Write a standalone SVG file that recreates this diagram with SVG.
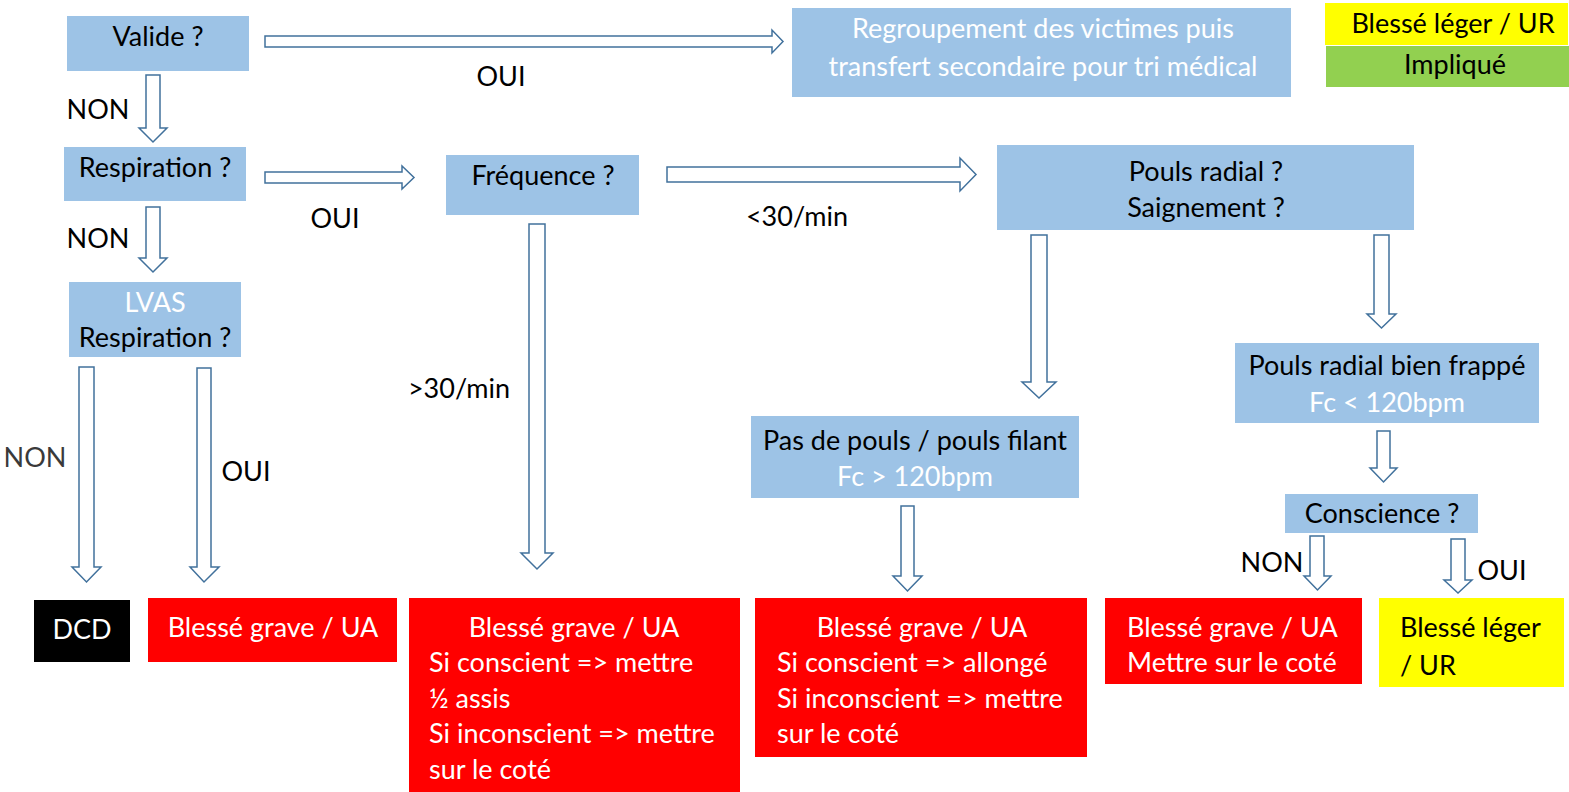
<svg xmlns="http://www.w3.org/2000/svg" width="1569" height="792" viewBox="0 0 1569 792">
<style>
text{font-family:Lato,"Open Sans","Noto Sans",sans-serif;font-size:27px;fill:#000}
.w{fill:#fff}
.c{text-anchor:middle}
.blue{fill:#9DC3E6}
.red{fill:#FF0000}
.yel{fill:#FFFF00}
.grn{fill:#92D050}
.blk{fill:#000}
.arr{fill:#fff;stroke:#41719C;stroke-width:1.5;stroke-linejoin:miter}
.gray{fill:#3a3a3a}
</style>
<rect width="1569" height="792" fill="#fff"/>
<g id="connectors">
<path class="arr" d="M265,36 L772,36 L772,30 L783,41.5 L772,53 L772,47 L265,47 Z"/>
<path class="arr" d="M265,172 L402,172 L402,166 L414,177.5 L402,189 L402,183 L265,183 Z"/>
<path class="arr" d="M667,167 L960,167 L960,158 L976,174.5 L960,191 L960,182 L667,182 Z"/>
<path class="arr" d="M146,75 L160,75 L160,128 L167,128 L153,142 L139,128 L146,128 Z"/>
<path class="arr" d="M146,207 L160,207 L160,258 L167,258 L153,272 L139,258 L146,258 Z"/>
<path class="arr" d="M79,367 L94,367 L94,567 L101,567 L86.5,582 L72,567 L79,567 Z"/>
<path class="arr" d="M197,368 L211,368 L211,567 L219,567 L204,582 L190,567 L197,567 Z"/>
<path class="arr" d="M529,224 L545,224 L545,553 L553,553 L537,569 L521,553 L529,553 Z"/>
<path class="arr" d="M1031,235 L1047,235 L1047,382 L1056,382 L1039,398 L1022,382 L1031,382 Z"/>
<path class="arr" d="M1374,235 L1389,235 L1389,314 L1396,314 L1381.5,328 L1367,314 L1374,314 Z"/>
<path class="arr" d="M1377,431 L1390,431 L1390,468 L1397,468 L1383.5,482 L1370,468 L1377,468 Z"/>
<path class="arr" d="M1310,536 L1324,536 L1324,576 L1331,576 L1317.5,590 L1304,576 L1310,576 Z"/>
<path class="arr" d="M1451,539 L1465,539 L1465,580 L1472,580 L1458,593 L1444,580 L1451,580 Z"/>
<path class="arr" d="M901,506 L914,506 L914,576 L922,576 L907.5,591 L893,576 L901,576 Z"/>
</g>
<g id="labels">
<text x="501" y="86" class="c">OUI</text>
<text x="98" y="119" class="c">NON</text>
<text x="335" y="228" class="c">OUI</text>
<text x="98" y="248" class="c">NON</text>
<text x="797" y="226" class="c">&lt;30/min</text>
<text x="459" y="398" class="c">&gt;30/min</text>
<text x="35" y="467" class="c gray">NON</text>
<text x="246" y="481" class="c">OUI</text>
<text x="1272" y="572" class="c">NON</text>
<text x="1502" y="580" class="c">OUI</text>
</g>
<g id="valide"><rect class="blue" x="67" y="16" width="182" height="55"/><text x="158" y="46" class="c">Valide ?</text></g>
<g id="regroupement"><rect class="blue" x="792" y="8" width="499" height="89"/><text x="1043" y="38" class="c w">Regroupement des victimes puis</text><text x="1043" y="76" class="c w">transfert secondaire pour tri médical</text></g>
<g id="legend-leger"><rect class="yel" x="1325" y="3" width="243" height="42"/><text x="1453" y="33" class="c">Blessé léger / UR</text></g>
<g id="legend-implique"><rect class="grn" x="1326" y="46" width="243" height="41"/><text x="1455" y="74" class="c">Impliqué</text></g>
<g id="respiration"><rect class="blue" x="64" y="147" width="182" height="54"/><text x="155" y="177" class="c">Respiration ?</text></g>
<g id="frequence"><rect class="blue" x="446" y="155" width="193" height="60"/><text x="543" y="185" class="c">Fréquence ?</text></g>
<g id="pouls-radial"><rect class="blue" x="997" y="145" width="417" height="85"/><text x="1206" y="181" class="c">Pouls radial ?</text><text x="1206" y="217" class="c">Saignement ?</text></g>
<g id="lvas"><rect class="blue" x="69" y="282" width="172" height="75"/><text x="155" y="312" class="c w">LVAS</text><text x="155" y="347" class="c">Respiration ?</text></g>
<g id="bien-frappe"><rect class="blue" x="1235" y="343" width="304" height="80"/><text x="1387" y="375" class="c">Pouls radial bien frappé</text><text x="1387" y="412" class="c w">Fc &lt; 120bpm</text></g>
<g id="pas-de-pouls"><rect class="blue" x="751" y="416" width="328" height="82"/><text x="915" y="450" class="c">Pas de pouls / pouls filant</text><text x="915" y="486" class="c w">Fc &gt; 120bpm</text></g>
<g id="conscience"><rect class="blue" x="1285" y="494" width="193" height="39"/><text x="1382" y="523" class="c">Conscience ?</text></g>
<g id="dcd"><rect class="blk" x="34" y="600" width="96" height="62"/><text x="82" y="639" class="c w">DCD</text></g>
<g id="grave-1"><rect class="red" x="148" y="598" width="249" height="64"/><text x="273" y="637" class="c w">Blessé grave / UA</text></g>
<g id="grave-2"><rect class="red" x="409" y="598" width="331" height="194"/><text x="574" y="637" class="c w">Blessé grave / UA</text><text x="429" y="672" class="w">Si conscient =&gt; mettre</text><text x="429" y="708" class="w">½ assis</text><text x="429" y="743" class="w">Si inconscient =&gt; mettre</text><text x="429" y="779" class="w">sur le coté</text></g>
<g id="grave-3"><rect class="red" x="755" y="598" width="332" height="159"/><text x="922" y="637" class="c w">Blessé grave / UA</text><text x="777" y="672" class="w">Si conscient =&gt; allongé</text><text x="777" y="708" class="w">Si inconscient =&gt; mettre</text><text x="777" y="743" class="w">sur le coté</text></g>
<g id="grave-4"><rect class="red" x="1105" y="598" width="257" height="86"/><text x="1127" y="637" class="w">Blessé grave / UA</text><text x="1127" y="672" class="w">Mettre sur le coté</text></g>
<g id="leger"><rect class="yel" x="1379" y="598" width="185" height="89"/><text x="1400" y="637">Blessé léger</text><text x="1400" y="675">/ UR</text></g>
</svg>
